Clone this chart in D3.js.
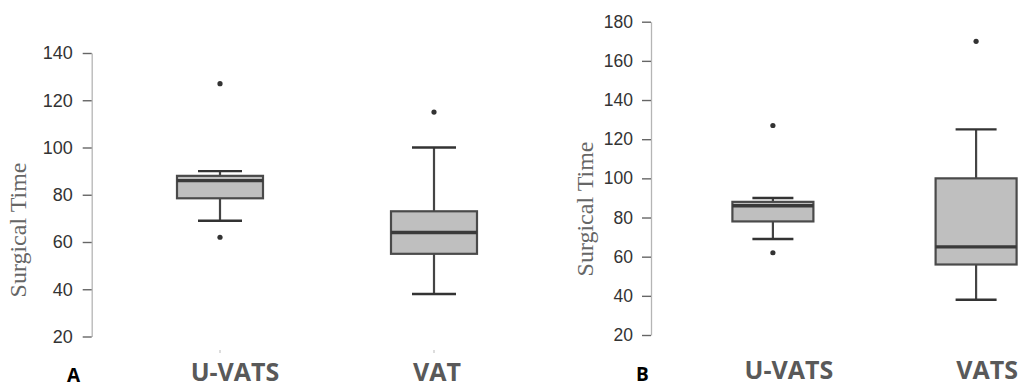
<!DOCTYPE html>
<html>
<head>
<meta charset="utf-8">
<script src="https://cdn.jsdelivr.net/npm/d3@7"></script>
<style>
  body { margin: 0; background: #fff; }
  svg { display: block; }
</style>
</head>
<body>
<script>
// Panel A data
const groupsA = ['U-VATS', 'VAT'];
const whiskerLowA = [69, 38];
const q1A = [78.5, 55];
const medianA = [86, 64];
const q3A = [88, 73];
const whiskerHighA = [90, 100];
const outliersA = [[62, 127], [115]];
const ticksA = [20, 40, 60, 80, 100, 120, 140];

// Panel B data
const groupsB = ['U-VATS', 'VATS'];
const whiskerLowB = [69, 38];
const q1B = [78, 56];
const medianB = [86, 65];
const q3B = [88, 100];
const whiskerHighB = [90, 125];
const outliersB = [[62, 127], [170]];
const ticksB = [20, 40, 60, 80, 100, 120, 140, 160, 180];

const svg = d3.select('body').append('svg')
  .attr('width', 1022)
  .attr('height', 388);

function drawPanel(p) {
  const y = d3.scaleLinear().domain(p.domain).range(p.yRange);
  const x = d3.scalePoint().domain(p.groups).range(p.xRange).padding(0.5);

  const g = svg.append('g');

  // y axis
  const axis = g.append('g')
    .attr('transform', 'translate(' + p.axisX + ',0)')
    .call(d3.axisLeft(y).tickValues(p.ticks).tickSize(9).tickSizeOuter(0).tickPadding(p.pad));
  axis.select('.domain').attr('stroke', '#b5b5b5').attr('stroke-width', 1.3);
  axis.selectAll('.tick line').attr('stroke', '#666').attr('stroke-width', 1.4);
  axis.selectAll('.tick text')
    .attr('fill', '#333')
    .style('font-family', '"Liberation Sans", Arial, sans-serif')
    .style('font-size', p.tickFont + 'px');

  // axis title
  g.append('text')
    .attr('transform', 'translate(' + p.titleX + ',' + p.titleY + ') rotate(-90)')
    .attr('text-anchor', 'middle')
    .attr('fill', '#666')
    .style('font-family', '"Liberation Serif", "Times New Roman", serif')
    .style('font-size', '24px')
    .text('Surgical Time');

  const rows = p.groups.map((name, i) => ({
    name: name, lo: p.lo[i], q1: p.q1[i], med: p.med[i], q3: p.q3[i], hi: p.hi[i], out: p.out[i]
  }));

  const box = g.selectAll('g.box').data(rows).enter().append('g')
    .attr('class', 'box')
    .attr('transform', d => 'translate(' + x(d.name) + ',0)');

  // whisker stems
  box.append('line')
    .attr('y1', d => y(d.hi)).attr('y2', d => y(d.q3))
    .attr('stroke', '#444').attr('stroke-width', 2.2);
  box.append('line')
    .attr('y1', d => y(d.q1)).attr('y2', d => y(d.lo))
    .attr('stroke', '#444').attr('stroke-width', 2.2);

  // caps
  box.selectAll('line.cap').data(d => [d.hi, d.lo]).enter().append('line')
    .attr('class', 'cap')
    .attr('x1', -p.capW / 2).attr('x2', p.capW / 2)
    .attr('y1', v => y(v)).attr('y2', v => y(v))
    .attr('stroke', '#333').attr('stroke-width', 2.4);

  // box
  box.append('rect')
    .attr('x', -p.boxW / 2)
    .attr('width', p.boxW)
    .attr('y', d => y(d.q3))
    .attr('height', d => y(d.q1) - y(d.q3))
    .attr('fill', '#bfbfbf')
    .attr('stroke', '#4a4a4a')
    .attr('stroke-width', 2.2);

  // median
  box.append('line')
    .attr('x1', -p.boxW / 2).attr('x2', p.boxW / 2)
    .attr('y1', d => y(d.med)).attr('y2', d => y(d.med))
    .attr('stroke', '#3a3a3a').attr('stroke-width', 3.4);

  // outliers
  box.selectAll('circle').data(d => d.out).enter().append('circle')
    .attr('cy', v => y(v))
    .attr('r', 2.6)
    .attr('fill', '#333');

  // tiny leftover x ticks
  if (p.stubs) {
    box.append('line')
      .attr('y1', p.stubY).attr('y2', p.stubY + 3)
      .attr('stroke', '#bbb').attr('stroke-width', 1);
  }

  // category labels
  g.selectAll('text.cat').data(rows).enter().append('text')
    .attr('class', 'cat')
    .attr('x', (d, i) => x(d.name) + p.labelDx[i])
    .attr('y', p.labelY)
    .attr('text-anchor', 'middle')
    .attr('fill', '#595959')
    .style('font-family', '"Open Sans", sans-serif')
    .style('font-weight', 700)
    .style('font-size', '25px')
    .text(d => d.name);

  // panel letter
  g.append('text')
    .attr('x', p.letterX)
    .attr('y', p.letterY)
    .attr('fill', '#000')
    .style('font-family', '"Open Sans", sans-serif')
    .style('font-weight', 700)
    .style('font-size', '19px')
    .text(p.letter);
}

drawPanel({
  groups: groupsA, lo: whiskerLowA, q1: q1A, med: medianA, q3: q3A, hi: whiskerHighA, out: outliersA,
  ticks: ticksA, domain: [20, 140], yRange: [336.5, 53], xRange: [113, 541],
  axisX: 91.7, pad: 10, tickFont: 18, titleX: 26, titleY: 230,
  boxW: 86, capW: 44, stubs: true, stubY: 350,
  labelDx: [15, 3], labelY: 381, letter: 'A', letterX: 67, letterY: 382
});

drawPanel({
  groups: groupsB, lo: whiskerLowB, q1: q1B, med: medianB, q3: q3B, hi: whiskerHighB, out: outliersB,
  ticks: ticksB, domain: [20, 180], yRange: [335, 21.7], xRange: [671.3, 1077.7],
  axisX: 651, pad: 9, tickFont: 17.5, titleX: 593, titleY: 209,
  boxW: 81, capW: 41, stubs: false, stubY: 0,
  labelDx: [16, 11], labelY: 379, letter: 'B', letterX: 636, letterY: 381
});
</script>
</body>
</html>
